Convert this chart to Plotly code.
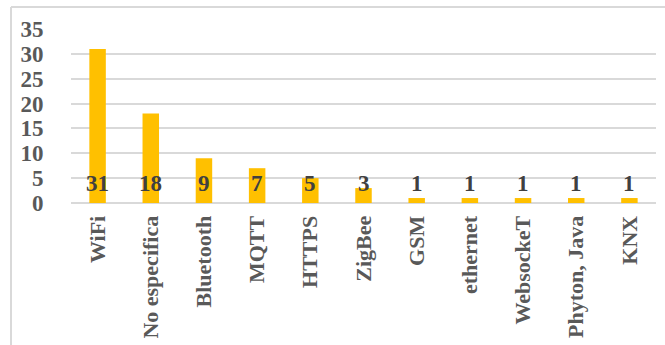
import plotly.graph_objects as go

categories = ["WiFi", "No especifica", "Bluetooth", "MQTT", "HTTPS", "ZigBee",
              "GSM", "ethernet", "WebsockeT", "Phyton, Java", "KNX"]
counts = [31, 18, 9, 7, 5, 3, 1, 1, 1, 1, 1]
y_ticks = [0, 5, 10, 15, 20, 25, 30, 35]

FONT = "Liberation Serif, Times New Roman, serif"
GRID = "#d9d9d9"

fig = go.Figure(go.Bar(
    x=categories, y=counts,
    marker=dict(color="#FFC000", line=dict(width=0)),
    hoverinfo="skip",
))

# Value labels sit near the base of each column
for cat, val in zip(categories, counts):
    fig.add_annotation(
        x=cat, y=0, xref="x", yref="y", text=f"<b>{val}</b>",
        showarrow=False, yanchor="middle", yshift=20,
        font=dict(family=FONT, size=23, color="#404040"),
    )

# Chart frame (left and top edges)
fx = (11 - 71) / 585
fy = 1 + 22 / 173.4
fig.add_shape(type="line", xref="paper", yref="paper",
              x0=fx, x1=fx, y0=-1, y1=fy, line=dict(color=GRID, width=2))
fig.add_shape(type="line", xref="paper", yref="paper",
              x0=fx, x1=1.2, y0=fy, y1=fy, line=dict(color=GRID, width=2))

fig.update_layout(
    width=665, height=345,
    margin=dict(l=71, r=9, t=29, b=142, autoexpand=False),
    paper_bgcolor="white", plot_bgcolor="white",
    bargap=0.69,
    showlegend=False,
    xaxis=dict(
        type="category", tickangle=-90, automargin=False,
        tickvals=categories, ticktext=[f"<b>{c}</b>" for c in categories],
        tickfont=dict(family=FONT, size=22, color="#595959"),
        showgrid=False, showline=False, zeroline=False,
        ticks="outside", ticklen=3, tickcolor="rgba(0,0,0,0)",
    ),
    yaxis=dict(
        range=[0, 35], automargin=False,
        tickvals=y_ticks, ticktext=[f"<b>{v}</b>" for v in y_ticks],
        tickfont=dict(family=FONT, size=23, color="#595959"),
        showgrid=True, gridcolor=GRID, gridwidth=2,
        zeroline=True, zerolinecolor=GRID, zerolinewidth=2,
        showline=False,
        ticks="outside", ticklen=22, tickcolor="rgba(0,0,0,0)",
    ),
)

fig.write_html("out.html")
